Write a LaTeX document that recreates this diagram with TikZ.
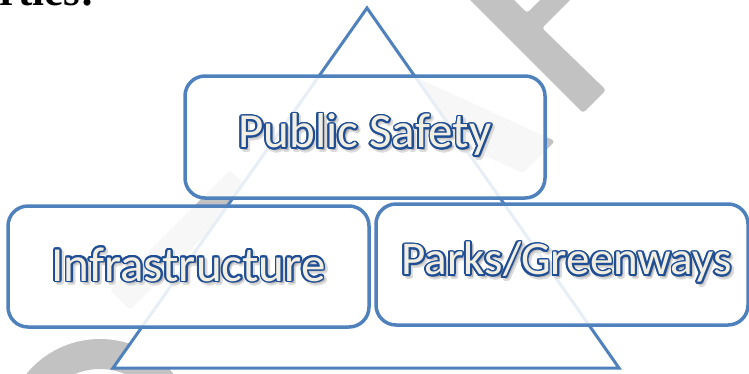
\documentclass[tikz,border=0pt]{standalone}
\usepackage{fontspec}
\usepackage{xcolor}
\usepackage[copies]{contour}
\setmainfont{Liberation Serif}
\newfontfamily\calfont{Carlito}
\definecolor{boxblue}{RGB}{79,129,189}
\definecolor{textblue}{RGB}{31,78,148}
\definecolor{textcream}{RGB}{242,239,226}
\definecolor{wmgray}{RGB}{194,194,194}
\definecolor{shadegray}{RGB}{175,175,175}
\contourlength{1.8pt}
\newcommand{\outlined}[1]{\makebox[0pt][l]{\hspace{2.4pt}\raisebox{-2.4pt}{\textcolor{shadegray}{\contour{shadegray!45!white}{#1}}}}\textcolor{textcream}{\contour{textblue}{#1}}}

\begin{document}
\begin{tikzpicture}[x=1pt,y=-1pt]
	\tikzset{boxnode/.style = {shape=rectangle, rounded corners=20pt, draw=boxblue, line width=3.5pt, fill=white, fill opacity=0.87, text opacity=1, inner sep=0pt, font=\calfont\fontsize{49}{58}\selectfont}}
	\tikzset{side/.style = {draw=boxblue, fill=white, line width=3pt, line join=miter}}
	\tikzset{mark piece/.style = {fill=wmgray, rounded corners=3pt}}
	\useasboundingbox (0,0) rectangle (749,373);
	\clip (0,0) rectangle (749,373);

	\fill[mark piece] (460,-10) -- (583,113) -- (606,90) -- (542,28) -- (580,-10) -- (550,-10) -- (527,13) -- (504,-10) -- cycle;
	\fill[mark piece] (555,141) -- (523,173) -- (390,112) -- (380,61) -- cycle;
	\fill[mark piece] (110,290) -- (130,310) -- (250,190) -- (230,170) -- cycle;
	\fill[wmgray, even odd rule] (100,434) circle[radius=95pt] (100,434) circle[radius=65pt];

	\node[anchor=base east, inner sep=0pt, font=\bfseries\fontsize{43}{50}\selectfont] (H) at (95,5) {rties:};

	\coordinate (T_1) at (367,8);
	\coordinate (T_2) at (113,368);
	\coordinate (T_3) at (619,368);
	\draw[side] (T_1) -- (T_2) -- (T_3) -- cycle;

	\node[boxnode, minimum width=360pt, minimum height=122pt] (B_1) at (365,137) {\outlined{Public Safety}};
	\node[boxnode, minimum width=361pt, minimum height=121pt] (B_2) at (188.5,266.5) {\outlined{Infrastructure}};
	\node[boxnode, minimum width=372pt, minimum height=121pt, font=\calfont\fontsize{47}{56}\selectfont] (B_3) at (562,264.5) {\hspace*{9pt}\outlined{Parks/Greenways}};
\end{tikzpicture}
\end{document}
